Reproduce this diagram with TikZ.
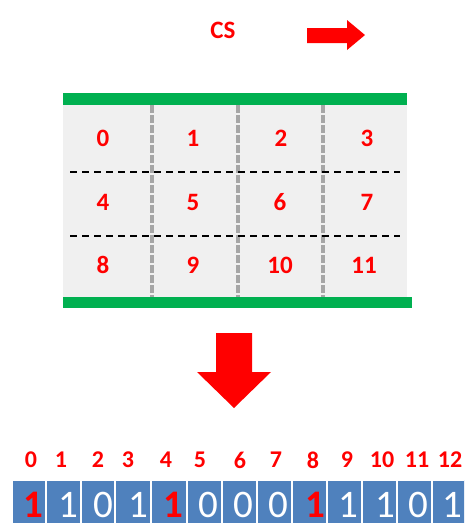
\documentclass[tikz,border=0pt]{standalone}
\usepackage{fontspec}
\setmainfont{Carlito}
\definecolor{gbar}{HTML}{00B050}
\definecolor{cellblue}{HTML}{4F81BD}
\definecolor{panel}{HTML}{F0F0F0}
\definecolor{vgrey}{HTML}{A6A6A6}
\begin{document}
\begin{tikzpicture}[x=1pt,y=-1pt,
  lbl/.style={text=red,font=\bfseries\fontsize{25}{25}\selectfont,inner sep=0pt},
  idx/.style={text=red,font=\bfseries\fontsize{24}{24}\selectfont,inner sep=0pt},
  bit/.style={text=white,font=\fontsize{39}{39}\selectfont,inner sep=0pt},
  rbit/.style={text=red,font=\bfseries\fontsize{39}{39}\selectfont,inner sep=0pt},
  cellbox/.style={fill=cellblue,draw=white,line width=1.5pt},
  gbarst/.style={fill=gbar,draw=none},
  vdash/.style={draw=vgrey,line width=3.5pt,dash pattern=on 8pt off 2pt},
  hdash/.style={draw=black,line width=2pt,dash pattern=on 7pt off 5pt},
  redarrow/.style={fill=red,draw=none}]
\useasboundingbox (0,0) rectangle (464,523);
\clip (0,0) rectangle (464,523);
% panel
\fill[panel] (63,105) rectangle (407,297);
\draw[vdash] (152,105) -- (152,297);
\draw[vdash] (238,105) -- (238,297);
\draw[vdash] (323,105) -- (323,297);
\draw[hdash] (70,172) -- (400,172);
\draw[hdash] (70,236) -- (400,236);
\fill[gbarst] (63,93) rectangle (407,105);
\fill[gbarst] (63,297) rectangle (412,308);
% labels in panel
\foreach \n/\x/\y in {0/103/138,1/193/138,2/281/138,3/367/138,
                       4/103/202,5/193/202,6/280/202,7/367/202,
                       8/103/265,9/193/265,10/280/265,11/364/265}
  \node[lbl] (p\n) at (\x,\y) {\n};
% CS and arrow
\node[lbl] (cs) at (223,30) {CS};
\fill[redarrow] (307,28) -- (347,28) -- (347,20) -- (365,35) -- (347,50) -- (347,43) -- (307,43) -- cycle;
% down arrow
\fill[redarrow] (216,333) -- (252,333) -- (252,372) -- (271,372) -- (234,408) -- (197,372) -- (216,372) -- cycle;
% array cells
\foreach \i/\a/\b in {0/12/46,1/46/81,2/81/115,3/115/151,4/151/187,5/187/222,6/222/257,7/257/292,8/292/327,9/327/362,10/362/397,11/397/432,12/432/467}
  \draw[cellbox] (\a,480) rectangle (\b,530);
% index labels
\foreach \n/\x in {0/31,1/61,2/98,3/128,4/166,5/200,6/240,7/276,8/313,9/347,10/382,11/417,12/450}
  \node[idx] (i\n) at (\x,460) {\n};
% bits
\foreach \n/\x/\v/\s in {0/33/1/rbit,1/68/1/bit,2/103/0/bit,3/138/1/bit,4/173/1/rbit,5/208/0/bit,6/243/0/bit,7/278/0/bit,8/315/1/rbit,9/348/1/bit,10/385/1/bit,11/418/0/bit,12/452/1/bit}
  \node[\s,anchor=base] (b\n) at (\x,517) {\v};
\end{tikzpicture}
\end{document}
